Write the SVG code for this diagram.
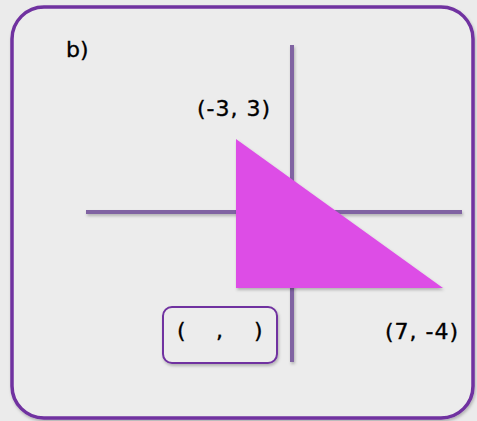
<svg xmlns="http://www.w3.org/2000/svg" width="477" height="421" viewBox="0 0 477 421">
<defs>
<filter id="sh" filterUnits="userSpaceOnUse" x="0" y="0" width="477" height="421">
<feDropShadow dx="1" dy="2" stdDeviation="1.5" flood-color="#000" flood-opacity="0.25"/>
</filter>
</defs>
<style>
.t{font-family:"DejaVu Sans","Liberation Sans",sans-serif;font-size:22px;fill:#000;stroke:#000;stroke-width:0.35}
.ax{fill:#8064a2}
</style>
<rect x="0" y="0" width="477" height="421" fill="#ebebeb"/>
<g id="frame">
<rect x="12" y="7" width="461" height="411" rx="32" fill="#ececec" stroke="#7030a0" stroke-width="3.5" filter="url(#sh)"/>
</g>
<g id="label-b"><text class="t" x="66" y="57">b)</text></g>
<g id="connectors">
<rect class="ax" x="290" y="45" width="4" height="317" filter="url(#sh)"/>
<rect class="ax" x="86" y="210" width="376" height="4" filter="url(#sh)"/>
</g>
<g id="triangle">
<polygon points="236,139 236,288 443,288" fill="#dd4de6" filter="url(#sh)"/>
</g>
<g id="label-a"><text class="t" x="197" y="116" textLength="73" lengthAdjust="spacing">(-3, 3)</text></g>
<g id="label-c"><text class="t" x="385" y="339" textLength="73" lengthAdjust="spacing">(7, -4)</text></g>
<g id="answer-box">
<rect x="163" y="307" width="114" height="56" rx="9" fill="#ececec" stroke="#7030a0" stroke-width="2" filter="url(#sh)"/>
<text class="t" y="338"><tspan x="177">(</tspan><tspan x="216">,</tspan><tspan x="254">)</tspan></text>
</g>
</svg>
